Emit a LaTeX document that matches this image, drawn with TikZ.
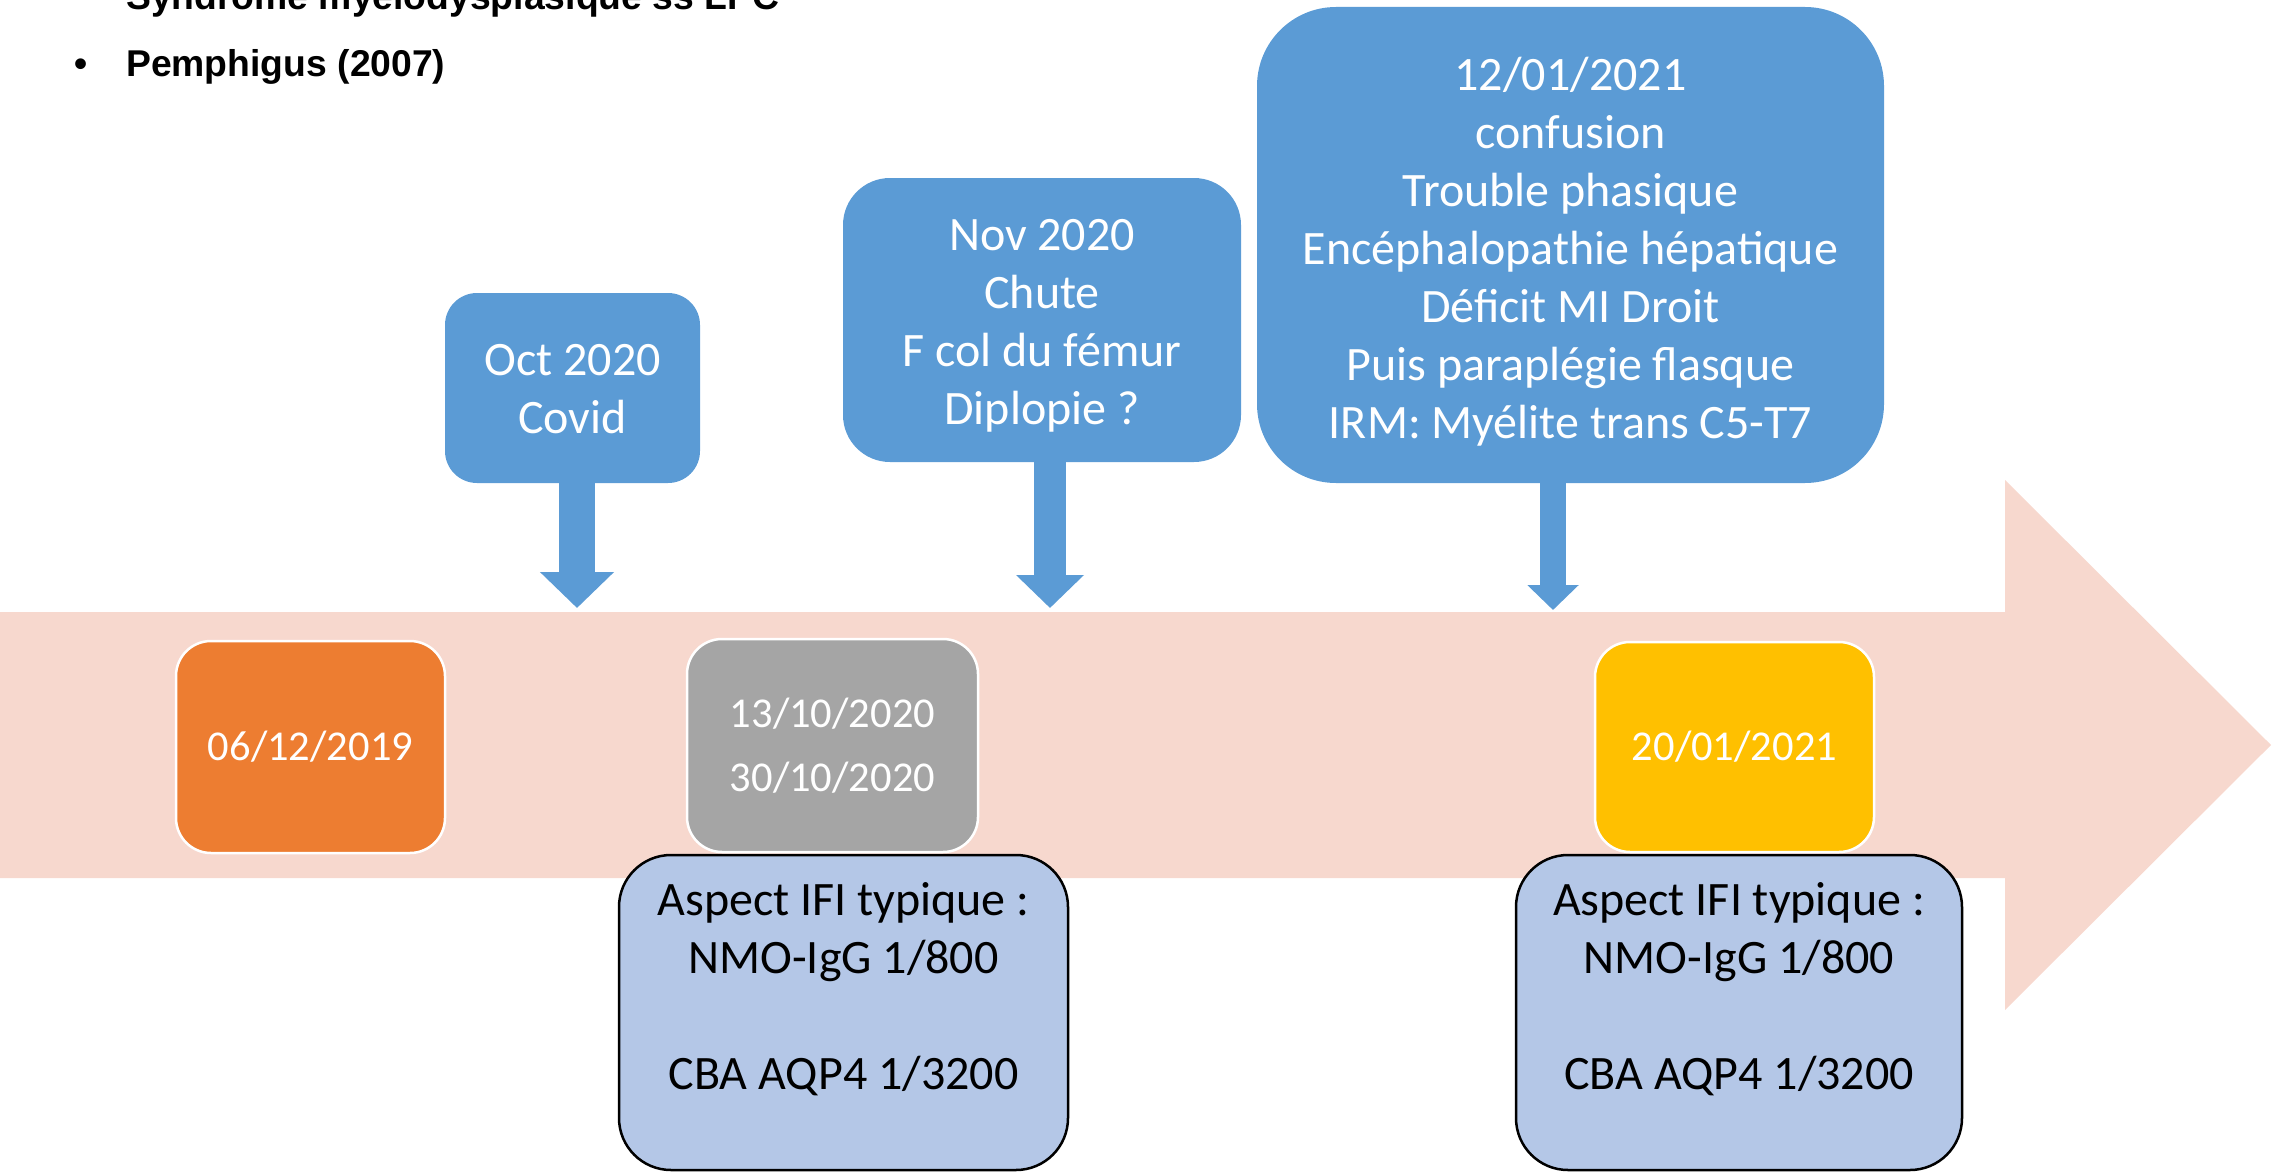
\documentclass[tikz,border=0pt]{standalone}
\usepackage{fontspec}
\setmainfont{Carlito}
\newfontfamily\arialfont{Liberation Sans}
\usetikzlibrary{arrows.meta,calc}
\definecolor{pinkbg}{HTML}{F7D8CE}
\definecolor{calblue}{HTML}{5B9BD5}
\definecolor{lightblue}{HTML}{B4C7E7}
\definecolor{orangeF}{HTML}{ED7D31}
\definecolor{greyF}{HTML}{A5A5A5}
\definecolor{yellowF}{HTML}{FFC000}
\begin{document}
\begin{tikzpicture}[x=1pt,y=-1pt,
  calbox/.style={fill=calblue, inner sep=0pt},
  caltext/.style={text=white, align=center, inner sep=0pt,
    font=\fontsize{48}{58}\selectfont},
  calarrow/.style={draw=calblue, fill=calblue},
  datebox/.style={draw=white, line width=2.5pt, rounded corners=35pt, text=white,
    align=center, inner sep=0pt, font=\fontsize{42.5}{64}\selectfont},
  lbbox/.style={draw=black, line width=2.5pt, fill=lightblue, rounded corners=52pt,
    inner sep=0pt},
  lbtext/.style={text=black, align=center, inner sep=0pt,
    font=\fontsize{48}{58}\selectfont},
  bultext/.style={inner sep=0pt, anchor=base west,
    font=\arialfont\bfseries\fontsize{37.3}{44}\selectfont}
]
\useasboundingbox (0,0) rectangle (2273,1172);
\clip (0,0) rectangle (2273,1172);

% timeline arrow
\fill[pinkbg] (0,612) -- (2005,612) -- (2005,480) -- (2271,745) -- (2005,1010)
  -- (2005,878) -- (0,878) -- cycle;

% result boxes
\node[lbbox, minimum width=449pt, minimum height=315pt] (r1) at (843.5,1012.5) {};
\node[lbtext] (r1t) at ($(r1.center)+(0,-23.5)$)
  {Aspect IFI typique :\\NMO-IgG 1/800\\[58pt]CBA AQP4 1/3200};
\node[lbbox, minimum width=446pt, minimum height=315pt] (r2) at (1739,1012.5) {};
\node[lbtext] (r2t) at ($(r2.center)+(0,-23.5)$)
  {Aspect IFI typique :\\NMO-IgG 1/800\\[58pt]CBA AQP4 1/3200};

% date boxes
\node[datebox, fill=orangeF, minimum width=269pt, minimum height=212pt] (d1)
  at (310.5,747) {06/12/2019};
\node[datebox, fill=greyF, minimum width=291pt, minimum height=213pt] (d2)
  at (832.5,745.5) {13/10/2020\\30/10/2020};
\node[datebox, fill=yellowF, minimum width=279pt, minimum height=210pt] (d3)
  at (1734.5,747) {20/01/2021};

% callouts
\node[calbox, rounded corners=32pt, minimum width=255pt, minimum height=190pt] (c1)
  at (572.5,388) {};
\node[caltext] (c1t) at ($(c1.center)+(0,1.5)$) {Oct 2020\\Covid};
\node[calbox, rounded corners=47pt, minimum width=398pt, minimum height=284pt] (c2)
  at (1042,320) {};
\node[caltext] (c2t) at ($(c2.center)+(0,6)$) {Nov 2020\\Chute\\F col du fémur\\Diplopie ?};
\node[calbox, rounded corners=79pt, minimum width=627pt, minimum height=476pt] (c3)
  at (1570.5,245) {};
\node[caltext] (c3t) at ($(c3.center)+(0,6.5)$) {12/01/2021\\confusion\\Trouble phasique\\Encéphalopathie hépatique\\Déficit MI Droit\\Puis paraplégie flasque\\IRM: Myélite trans C5-T7};

\coordinate (t1) at (577,608);
\coordinate (t2) at (1050,608);
\coordinate (t3) at (1553,610);
\draw[calarrow, line width=36pt, -{Triangle[width=72pt,length=36pt]}]
  ($(c1.south -| t1)+(0,-2)$) -- (t1);
\draw[calarrow, line width=32pt, -{Triangle[width=66pt,length=33pt]}]
  ($(c2.south -| t2)+(0,-2)$) -- (t2);
\draw[calarrow, line width=26pt, -{Triangle[width=50pt,length=25pt]}]
  ($(c3.south -| t3)+(0,-2)$) -- (t3);

% top-left list
\node[bultext] (l1) at (126,10) {Syndrome myelodysplasique ss LPC};
\node[bultext] (b2) at (74,77) {•};
\node[bultext] (l2) at (126,77) {Pemphigus (2007)};
\end{tikzpicture}
\end{document}
